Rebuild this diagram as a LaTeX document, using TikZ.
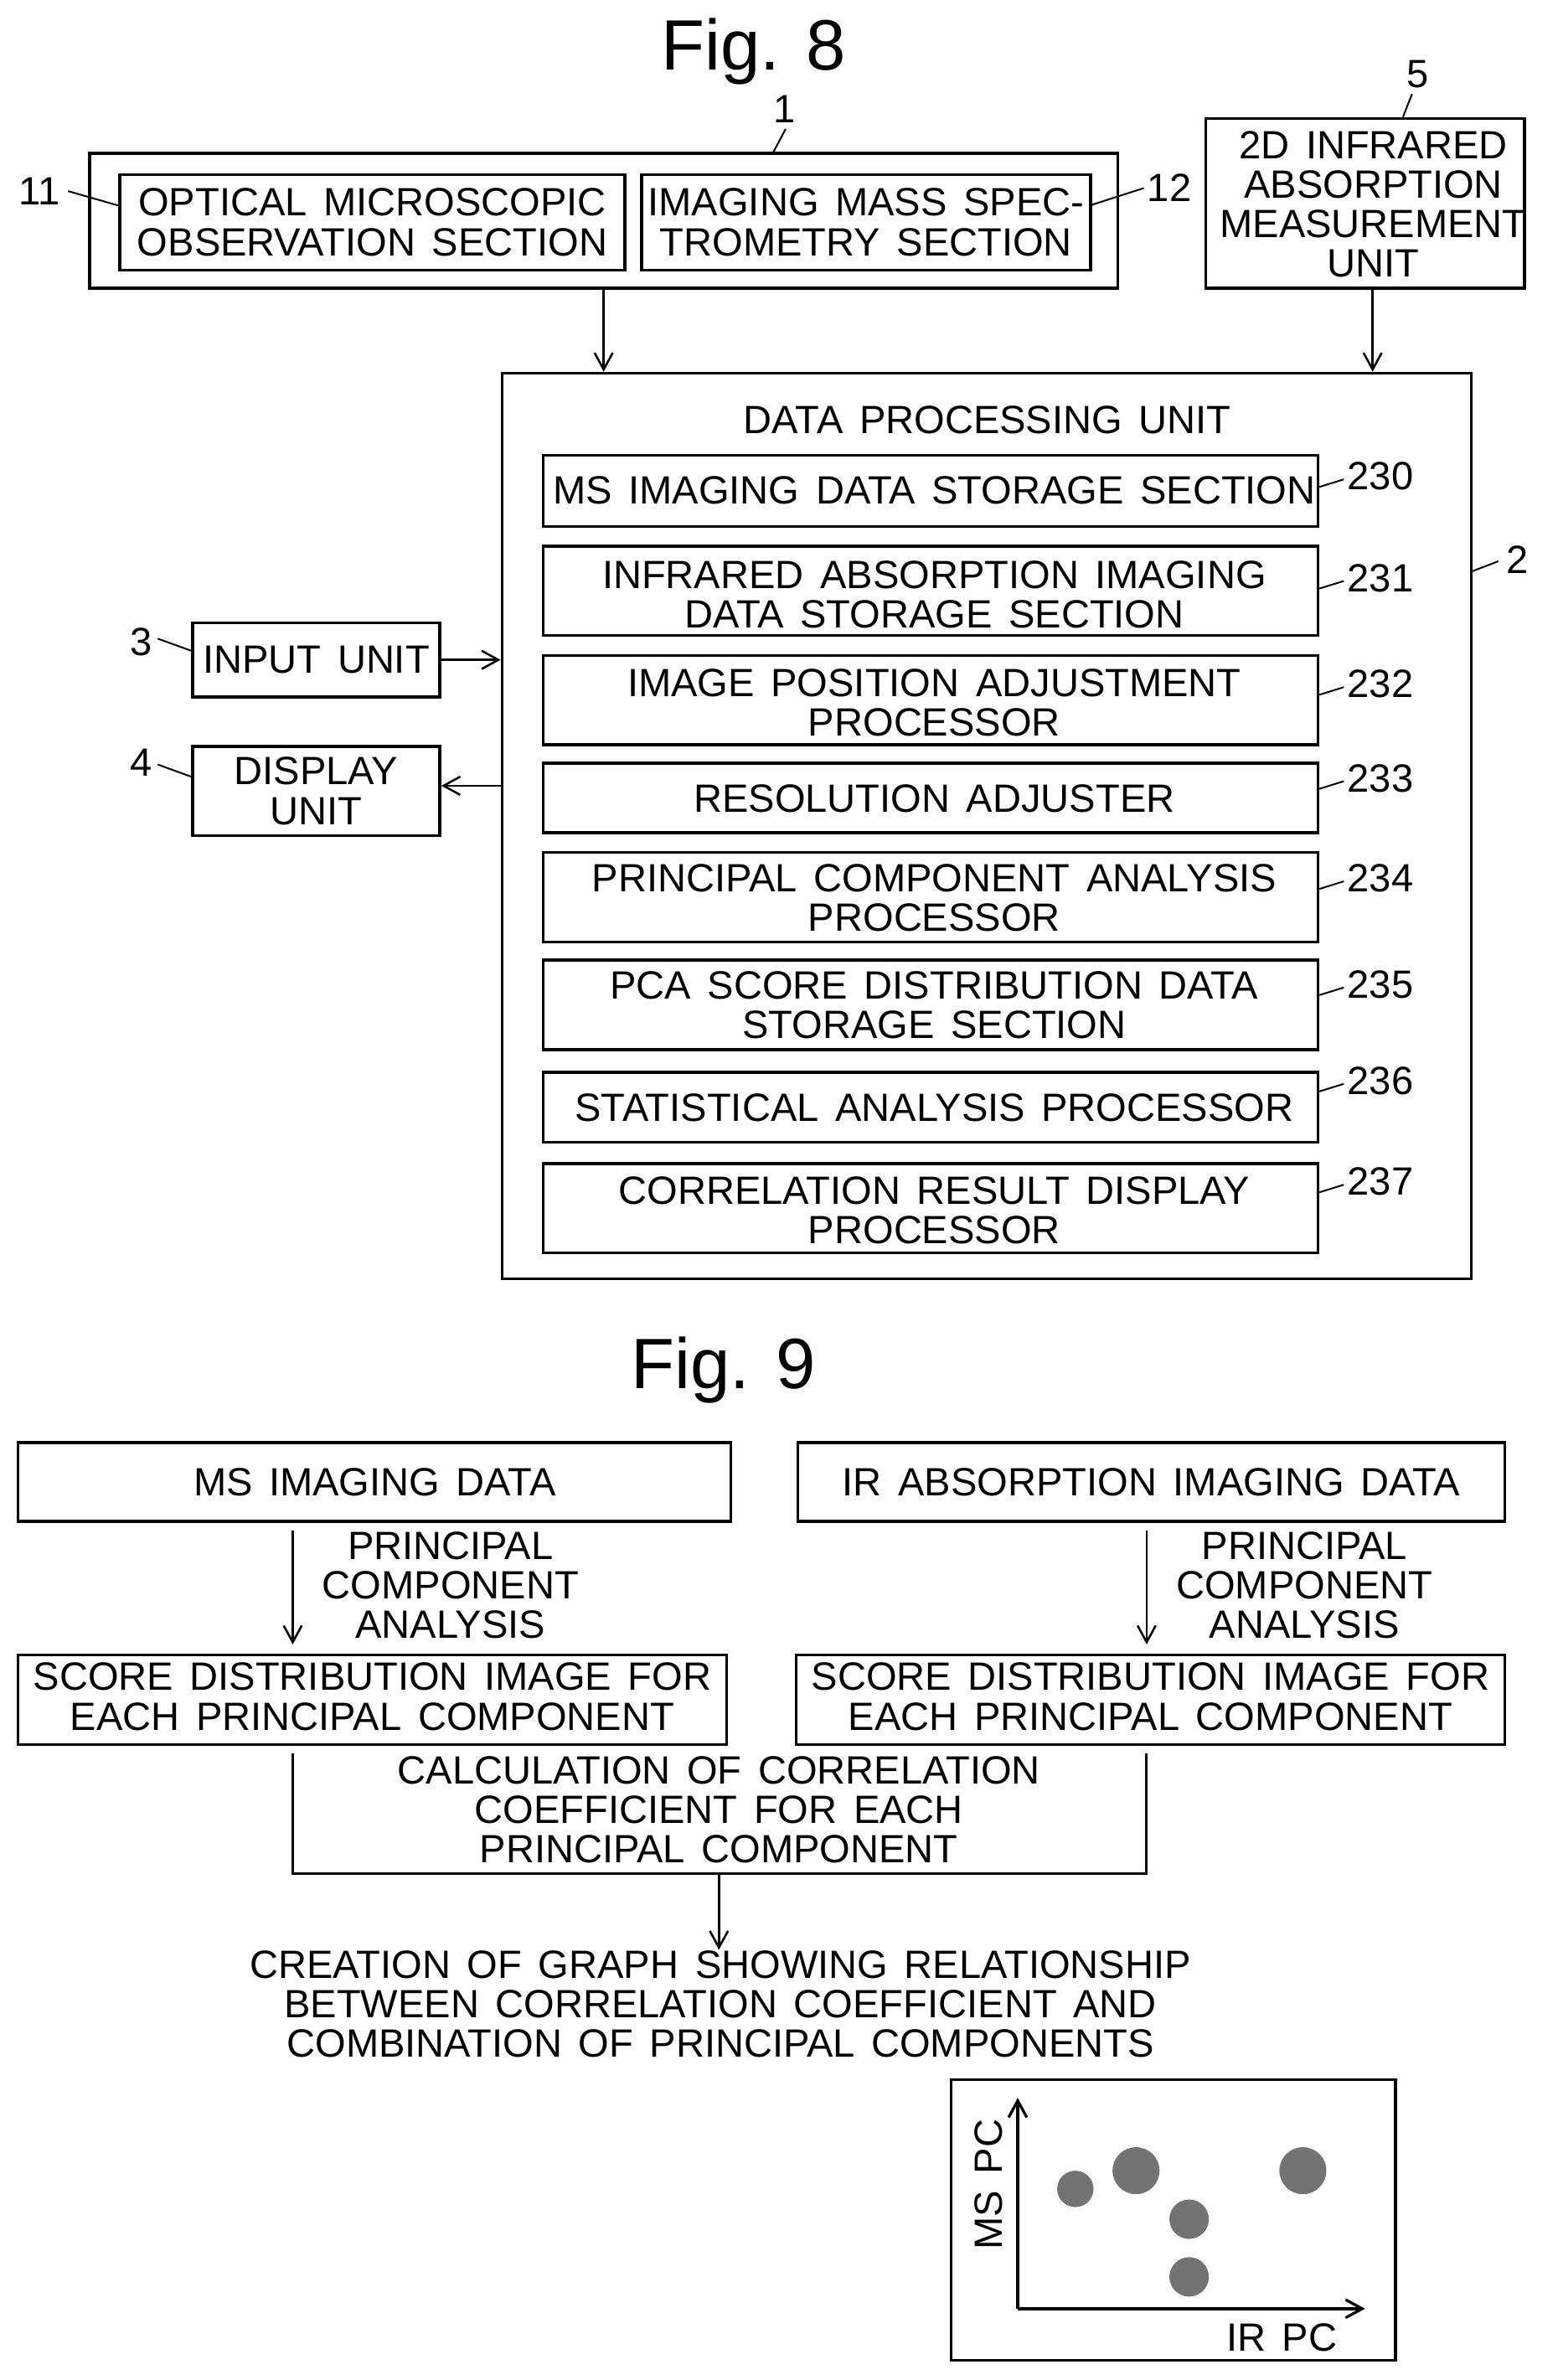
\documentclass[tikz,border=0pt]{standalone}
\usepackage{fontspec}
\setmainfont[WordSpace=1.5]{Liberation Sans}
\newfontfamily\titlefont{Liberation Sans}
\usetikzlibrary{arrows.meta}
\tikzset{
	box/.style={draw,line width=0.95pt,inner sep=0pt,align=center,font=\fontsize{13}{13}\selectfont},
	sub/.style={box,minimum width=255.5pt},
	txt/.style={inner sep=0pt,align=center,font=\fontsize{13}{13}\selectfont},
	conn/.style={line width=0.7pt,-{Straight Barb[length=5.5pt,width=6pt]}},
	lead/.style={line width=0.55pt},
	title/.style={inner sep=0pt,font=\titlefont\fontsize{23.5}{23.5}\selectfont},
	spot/.style={draw=none,fill=black!55,inner sep=0pt,shape=circle}
}
\begin{document}
\begin{tikzpicture}[x=0.5pt,y=-0.5pt]
	\useasboundingbox (0,0) rectangle (1026.7,1569);
	%fig 8
	\node[title] (fig8) at (497,34) {Fig. 8};
	%
	\node[box,minimum width=339pt,minimum height=44.5pt] (scope) at (398,145.5) {};
	\node[box,minimum width=166.5pt,minimum height=31.5pt] (optical) at (245.5,146.5) {OPTICAL MICROSCOPIC\\OBSERVATION SECTION};
	\node[box,minimum width=148pt,minimum height=31.5pt] (imaging) at (571,146.5) {IMAGING MASS SPEC-\\TROMETRY SECTION};
	\node[box,minimum width=105pt,minimum height=56pt] (infrared) at (900,134) {};
	\node[txt] (infraredtext) at (905.5,134.5) {2D INFRARED\\ABSORPTION\\MEASUREMENT\\UNIT};
	\node[box,minimum width=319.5pt,minimum height=298.5pt] (data) at (650.5,544.5) {};
	\node[txt] (datatitle) at (651,277) {DATA PROCESSING UNIT};
	\node[box,minimum width=81.5pt,minimum height=24.5pt] (input) at (208.5,435) {INPUT UNIT};
	\node[box,minimum width=81.5pt,minimum height=29.5pt] (display) at (208.5,521.5) {DISPLAY\\UNIT};
	%sections
	\foreach \n/\yc/\hh/\ty/\ly/\lab in {
		230/323.5/47/323.5/314/{MS IMAGING DATA STORAGE SECTION},
		231/389.5/59/392/381/{INFRARED ABSORPTION IMAGING\\DATA STORAGE SECTION},
		232/461.5/59/463/451/{IMAGE POSITION ADJUSTMENT\\PROCESSOR},
		233/526/46/526.5/513/{RESOLUTION ADJUSTER},
		234/591.5/59/592/579/{PRINCIPAL COMPONENT ANALYSIS\\PROCESSOR},
		235/662.5/59/662.5/649/{PCA SCORE DISTRIBUTION DATA\\STORAGE SECTION},
		236/730/46/730/712.5/{STATISTICAL ANALYSIS PROCESSOR},
		237/796.5/59/798/779/{CORRELATION RESULT DISPLAY\\PROCESSOR}}{
		\node[sub,minimum height=\hh*0.5pt] (b\n) at (613.5,\yc) {};
		\node[txt] (t\n) at (616,\ty) {\lab};
		\node[txt,anchor=west] (l\n) at (888,\ly) {\n};
		\draw[lead] ([xshift=-1pt,yshift=-1pt]l\n.west) -- (b\n.east |- 0,\ly+7);
	}
	%numbers
	\node[txt] (l1) at (517,72) {1};
	\draw[lead] (518,85) -- (scope.north -| 510,0);
	\node[txt] (l5) at (935,49) {5};
	\draw[lead] (931,62) -- (infrared.north -| 925,0);
	\node[txt] (l11) at (26,126) {11};
	\draw[lead] ([xshift=2.5pt]l11.east) -- (optical.west |- 0,135.5);
	\node[txt] (l12) at (771,124) {12};
	\draw[lead] ([xshift=-1pt]l12.west) -- (imaging.east |- 0,135);
	\node[txt] (l2) at (1000.5,369) {2};
	\draw[lead] (l2.west |- 0,370) ++(-2.5pt,0) -- (data.east |- 0,376.5);
	\node[txt] (l3) at (93,423) {3};
	\draw[lead] (104,421) -- (input.west |- 0,429);
	\node[txt] (l4) at (93,502.5) {4};
	\draw[lead] (104,504) -- (display.west |- 0,512);
	%arrows
	\draw[conn] (scope.south) -- (data.north -| scope.south);
	\draw[conn] (infrared.south -| 905,0) -- (data.north -| 905,0);
	\draw[conn] (input.east) -- (data.west |- input.east);
	\draw[conn] (data.west |- 0,518) -- (display.east |- 0,518);
	
	%fig 9
	\node[title] (fig9) at (477,903) {Fig. 9};
	%
	\node[box,minimum width=235pt,minimum height=26pt] (msdata) at (247,977) {MS IMAGING DATA};
	\node[box,minimum width=233pt,minimum height=26pt] (irdata) at (759,977) {IR ABSORPTION IMAGING DATA};
	\node[box,minimum width=233.5pt,minimum height=29.5pt] (msscore) at (245.5,1120.5) {};
	\node[txt] (msscoretext) at (245.5,1118.5) {SCORE DISTRIBUTION IMAGE FOR\\EACH PRINCIPAL COMPONENT};
	\node[box,minimum width=233.5pt,minimum height=29.5pt] (irscore) at (758.5,1120.5) {};
	\node[txt] (irscoretext) at (758.5,1118.5) {SCORE DISTRIBUTION IMAGE FOR\\EACH PRINCIPAL COMPONENT};
	\node[txt] (mspca) at (297,1045) {PRINCIPAL\\COMPONENT\\ANALYSIS};
	\node[txt] (irpca) at (860,1045) {PRINCIPAL\\COMPONENT\\ANALYSIS};
	\node[txt] (calc) at (474,1193) {CALCULATION OF CORRELATION\\COEFFICIENT FOR EACH\\PRINCIPAL COMPONENT};
	\node[txt] (graph) at (475,1321) {CREATION OF GRAPH SHOWING RELATIONSHIP\\BETWEEN CORRELATION COEFFICIENT AND\\COMBINATION OF PRINCIPAL COMPONENTS};
	\draw[conn,shorten <=2.5pt,shorten >=3pt] (msdata.south -| 193,0) -- (msscore.north -| 193,0);
	\draw[conn,shorten <=2.5pt,shorten >=3pt] (irdata.south -| 756,0) -- (irscore.north -| 756,0);
	\coordinate (join) at (474,1235);
	\draw[line width=0.8pt,shorten <=2.5pt,shorten >=2.5pt] (msscore.south -| 193,0) |- (join) -| (irscore.south -| 756,0);
	\draw[conn] (join) -- (graph.north -| join);
	
	%plot
	\node[box,minimum width=146.5pt,minimum height=92.5pt] (plot) at (773.5,1463.5) {};
	\coordinate (origin) at (671,1522);
	\coordinate (ytop) at (671,1383);
	\coordinate (xend) at (900,1522);
	\draw[conn,line width=0.9pt] (origin) -- (ytop);
	\draw[conn,line width=0.9pt] (origin) -- (xend);
	\node[txt,rotate=90] (ylabel) at (652,1440) {MS PC};
	\node[txt] (xlabel) at (845,1541) {IR PC};
	\foreach \n/\px/\py/\d in {a/709/1443/24,b/749/1431/31,c/859/1431/31,d/784/1463/26,e/784/1501/26}{
		\node[spot,minimum size=\d*0.5pt] (\n) at (\px,\py) {};
	}
\end{tikzpicture}
\end{document}
